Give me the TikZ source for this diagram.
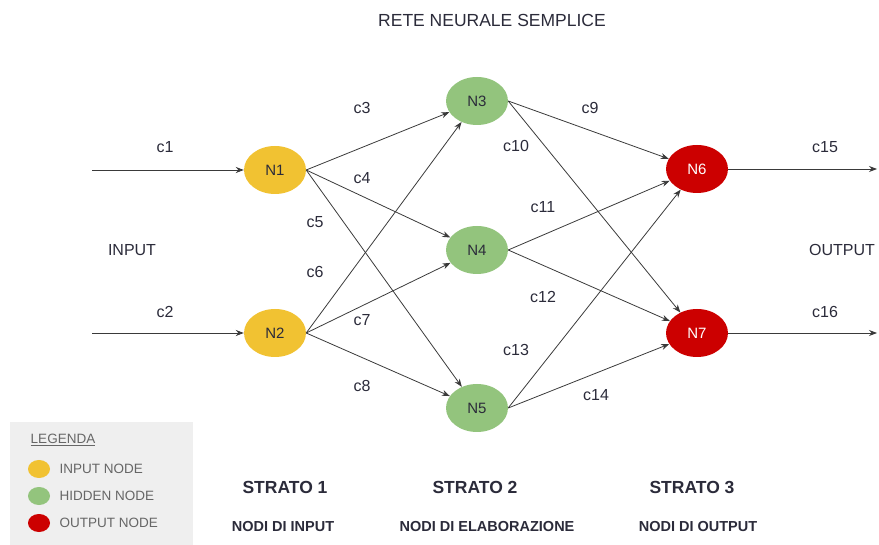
\documentclass[tikz,border=0pt]{standalone}
\usepackage{fontspec}
\setmainfont{Liberation Sans}
\usepackage{tikz}
\usetikzlibrary{arrows.meta,shapes.geometric}

\definecolor{inputcol}{HTML}{F1C232}
\definecolor{hiddencol}{HTML}{93C47D}
\definecolor{outputcol}{HTML}{CC0000}
\definecolor{legendbg}{HTML}{EFEFEF}
\definecolor{linecol}{HTML}{3A3A3A}
\definecolor{textcol}{HTML}{2B2B3A}

\tikzset{
  neuron/.style={ellipse, minimum width=62pt, minimum height=48pt, inner sep=0pt,
    font=\fontsize{15}{17}\selectfont, text=textcol},
  innode/.style={neuron, fill=inputcol},
  hidnode/.style={neuron, fill=hiddencol},
  outnode/.style={neuron, fill=outputcol, text=white},
  link/.style={draw=linecol, line width=0.8pt, -{Stealth[length=8pt,width=6pt]}},
  wlabel/.style={font=\fontsize{16}{18}\selectfont, text=textcol},
  strato/.style={font=\bfseries\fontsize{17.5}{20}\selectfont, text=textcol},
  nodi/.style={font=\bfseries\fontsize{14.5}{16}\selectfont, text=textcol},
  legdot/.style={ellipse, minimum width=22pt, minimum height=18pt, inner sep=0pt},
  legtext/.style={anchor=west, font=\fontsize{13.5}{15}\selectfont, text=black!60}
}

\begin{document}
\begin{tikzpicture}[x=1pt, y=-1pt]
\useasboundingbox (0,0) rectangle (879,545);

% title
\node[font=\fontsize{17.5}{20}\selectfont, text=textcol] (title) at (492,20) {RETE NEURALE SEMPLICE};

% nodes
\node[innode] (N1) at (275,170) {N1};
\node[innode] (N2) at (275,333) {N2};
\node[hidnode] (N3) at (477,101) {N3};
\node[hidnode] (N4) at (477,250) {N4};
\node[hidnode] (N5) at (477,408) {N5};
\node[outnode] (N6) at (697,169) {N6};
\node[outnode] (N7) at (697,333) {N7};

\coordinate (in1) at (92,170);
\coordinate (in2) at (92,333);
\coordinate (out1) at (877,169);
\coordinate (out2) at (877,333);

% connections
\draw[link] (in1) -- (N1);
\draw[link] (in2) -- (N2);
\foreach \s in {N1,N2}
  \foreach \t in {N3,N4,N5}
    \draw[link] (\s.east) -- (\t);
\foreach \s in {N3,N4,N5}
  \foreach \t in {N6,N7}
    \draw[link] (\s.east) -- (\t);
\draw[link] (N6) -- (out1);
\draw[link] (N7) -- (out2);

% weights
\node[wlabel] (c1) at (165,147) {c1};
\node[wlabel] (c2) at (165,312) {c2};
\node[wlabel] (c3) at (362,108) {c3};
\node[wlabel] (c4) at (362,178) {c4};
\node[wlabel] (c5) at (315,222) {c5};
\node[wlabel] (c6) at (315,272) {c6};
\node[wlabel] (c7) at (362,320) {c7};
\node[wlabel] (c8) at (362,386) {c8};
\node[wlabel] (c9) at (590,108) {c9};
\node[wlabel] (c10) at (516,146) {c10};
\node[wlabel] (c11) at (543,207) {c11};
\node[wlabel] (c12) at (543,297) {c12};
\node[wlabel] (c13) at (516,350) {c13};
\node[wlabel] (c14) at (596,395) {c14};
\node[wlabel] (c15) at (825,147) {c15};
\node[wlabel] (c16) at (825,312) {c16};

\node[wlabel] (input) at (132,250) {INPUT};
\node[wlabel] (output) at (842,250) {OUTPUT};

% strati
\node[strato] (s1) at (285,487) {STRATO 1};
\node[strato] (s2) at (475,487) {STRATO 2};
\node[strato] (s3) at (692,487) {STRATO 3};
\node[nodi] (d1) at (283,527) {NODI DI INPUT};
\node[nodi] (d2) at (487,527) {NODI DI ELABORAZIONE};
\node[nodi] (d3) at (698,527) {NODI DI OUTPUT};

% legend
\fill[legendbg] (10,422) rectangle (193,545);
\node[font=\fontsize{13.5}{15}\selectfont, text=black!60] (leg) at (63,440) {\underline{LEGENDA}};
\node[legdot, fill=inputcol] (l1) at (39,469) {};
\node[legdot, fill=hiddencol] (l2) at (39,496) {};
\node[legdot, fill=outputcol] (l3) at (39,523) {};
\node[legtext] (t1) at (56,469) {INPUT NODE};
\node[legtext] (t2) at (56,496) {HIDDEN NODE};
\node[legtext] (t3) at (56,523) {OUTPUT NODE};
\end{tikzpicture}
\end{document}
